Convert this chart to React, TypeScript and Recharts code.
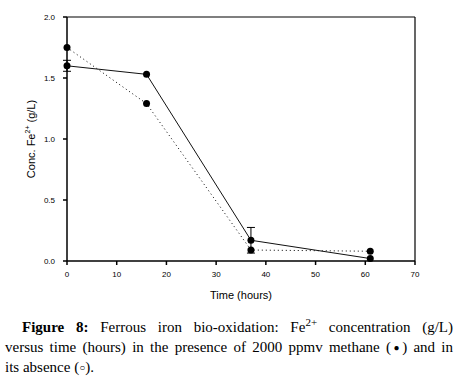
import React from 'react';
import { LineChart, Line, XAxis, YAxis, ErrorBar, ReferenceLine } from 'recharts';

const timeHours = [0, 16, 37, 61];
const methaneConc = [1.6, 1.53, 0.17, 0.02];
const methaneErr: (number | null)[] = [0.045, null, 0.105, null];
const controlConc = [1.75, 1.29, 0.09, 0.08];
const xTicks = [0, 10, 20, 30, 40, 50, 60, 70];
const yTicks = [0, 0.5, 1.0, 1.5, 2.0];

const methaneData = timeHours.map((t, i) => ({ t, c: methaneConc[i], err: methaneErr[i] }));
const controlData = timeHours.map((t, i) => ({ t, c: controlConc[i] }));

const FONT = '"Liberation Sans", Arial, sans-serif';

const YLabel = (props: any) => {
  const vb = props.viewBox || { x: 0, y: 17, width: 67, height: 244 };
  const cx = vb.x + 31;
  const cy = vb.y + vb.height / 2;
  return (
    <text
      x={cx}
      y={cy}
      transform={`rotate(-90, ${cx}, ${cy})`}
      textAnchor="middle"
      dominantBaseline="central"
      fontFamily={FONT}
      fontSize={11}
      fill="#000"
    >
      <tspan>Conc. Fe</tspan>
      <tspan dy={-4} fontSize={7}>2+</tspan>
      <tspan dy={4}> (g/L)</tspan>
    </text>
  );
};

export default function App() {
  return (
    <div style={{ position: 'absolute', left: 0, top: 0, width: 461, height: 377, background: '#fff' }}>
      <LineChart
        width={461}
        height={305}
        margin={{ top: 17, right: 46, left: 0, bottom: 0 }}
      >
        <XAxis
          dataKey="t"
          type="number"
          domain={[0, 70]}
          ticks={xTicks}
          allowDuplicatedCategory={false}
          height={44}
          tickSize={4}
          tickMargin={6}
          stroke="#000"
          strokeWidth={1.5}
          tick={{ fontSize: 8, fontFamily: FONT, fill: '#000' }}
          label={{ value: 'Time (hours)', position: 'insideBottom', offset: 6, fontSize: 11, fontFamily: FONT, fill: '#000' }}
        />
        <YAxis
          type="number"
          domain={[0, 2]}
          ticks={yTicks}
          width={67}
          tickSize={4}
          tickMargin={8}
          stroke="#000"
          strokeWidth={1.5}
          tickFormatter={(v: number) => v.toFixed(1)}
          tick={{ fontSize: 8, fontFamily: FONT, fill: '#000' }}
          label={<YLabel />}
        />
        <ReferenceLine y={2} stroke="#000" strokeWidth={1.2} />
        <ReferenceLine x={70} stroke="#000" strokeWidth={1.2} />
        <Line
          data={controlData}
          dataKey="c"
          type="linear"
          stroke="#000"
          strokeWidth={1}
          strokeDasharray="1 3"
          dot={{ r: 3.5, fill: '#000', stroke: '#000', strokeWidth: 0 }}
          isAnimationActive={false}
        />
        <Line
          data={methaneData}
          dataKey="c"
          type="linear"
          stroke="#111"
          strokeWidth={1}
          dot={{ r: 3.5, fill: '#000', stroke: '#000', strokeWidth: 0 }}
          isAnimationActive={false}
        >
          <ErrorBar dataKey="err" width={4} stroke="#000" strokeWidth={1} direction="y" />
        </Line>
      </LineChart>
      <div
        style={{
          position: 'absolute',
          left: 5,
          top: 318,
          width: 448,
          fontFamily: '"Liberation Serif", "Times New Roman", serif',
          fontSize: 15,
          lineHeight: '18.5px',
          color: '#000',
        }}
      >
        <div style={{ textAlign: 'justify', textAlignLast: 'justify', textIndent: 17, whiteSpace: 'nowrap' }}>
          <b>Figure 8:</b> Ferrous iron bio-oxidation: Fe
          <span style={{ fontSize: 11, position: 'relative', top: -6 }}>2+</span> concentration (g/L)
        </div>
        <div style={{ textAlign: 'justify', textAlignLast: 'justify' }}>
          versus time (hours) in the presence of 2000 ppmv methane (<span style={{ fontSize: 10, position: 'relative', top: -1 }}>●</span>) and in
        </div>
        <div>its absence (<span style={{ fontSize: 10, position: 'relative', top: -1 }}>○</span>).</div>
      </div>
    </div>
  );
}
